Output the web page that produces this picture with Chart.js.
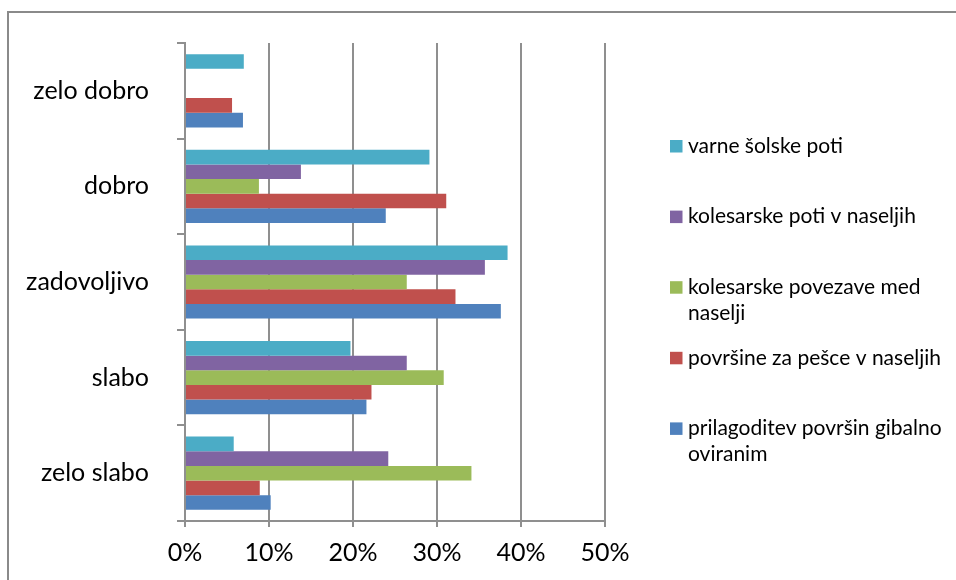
<!DOCTYPE html>
<html>
<head>
<meta charset="utf-8">
<script src="https://cdn.jsdelivr.net/npm/chart.js@4/dist/chart.umd.min.js"></script>
<style>
  html, body { margin: 0; padding: 0; background: #ffffff; }
  #wrap { width: 956px; height: 580px; position: relative; }
</style>
</head>
<body>
<div id="wrap"><canvas id="chart" width="956" height="580"></canvas></div>
<script>
// Ocene (top to bottom)
const categories = ['zelo dobro', 'dobro', 'zadovoljivo', 'slabo', 'zelo slabo'];

// Deleži odgovorov v % po posamezni infrastrukturi
const varneSolskePoti      = [7.0, 29.1, 38.4, 19.7, 5.8];
const kolesarskePoti       = [0, 13.8, 35.7, 26.4, 24.2];
const kolesarskePovezave   = [0, 8.8, 26.4, 30.8, 34.1];
const povrsineZaPesce      = [5.6, 31.1, 32.2, 22.2, 8.9];
const prilagoditevPovrsin  = [6.9, 23.9, 37.6, 21.6, 10.2];

const seriesNames = [
  'varne šolske poti',
  'kolesarske poti v naseljih',
  'kolesarske povezave med naselji',
  'površine za pešce v naseljih',
  'prilagoditev površin gibalno oviranim'
];
const seriesColors = ['#4BACC6', '#8064A2', '#9BBB59', '#C0504D', '#4F81BD'];
const seriesValues = [varneSolskePoti, kolesarskePoti, kolesarskePovezave, povrsineZaPesce, prilagoditevPovrsin];

const xTicks = [0, 10, 20, 30, 40, 50];

const FONT = 'Lato, "Open Sans", sans-serif';
const GRID = '#8f8f8f';

// Outer frame of the chart object
const framePlugin = {
  id: 'frame',
  beforeDraw(chart) {
    const ctx = chart.ctx;
    ctx.save();
    ctx.fillStyle = '#ffffff';
    ctx.fillRect(0, 0, chart.width, chart.height);
    ctx.strokeStyle = '#8a8a8a';
    ctx.lineWidth = 2;
    ctx.strokeRect(8, 12, 1200, 1200);
    ctx.restore();
  }
};

// Legend on the right with wrapped entries
const sideLegend = {
  id: 'sideLegend',
  afterDraw(chart) {
    const ctx = chart.ctx;
    const x0 = 670, box = 12, textX = 688, maxW = 262;
    const firstY = 146, step = 70.6, lineH = 26;
    ctx.save();
    ctx.font = '21px ' + FONT;
    ctx.textBaseline = 'middle';
    ctx.textAlign = 'left';
    chart.data.datasets.forEach((ds, i) => {
      const cy = firstY + i * step;
      ctx.fillStyle = ds.backgroundColor;
      ctx.fillRect(x0, cy - box / 2, box + 0.5, box + 0.5);
      // wrap words into lines
      const words = ds.label.split(' ');
      const lines = [];
      let cur = '';
      words.forEach(w => {
        const t = cur ? cur + ' ' + w : w;
        if (ctx.measureText(t).width > maxW && cur) { lines.push(cur); cur = w; }
        else cur = t;
      });
      if (cur) lines.push(cur);
      ctx.fillStyle = '#000000';
      lines.forEach((ln, k) => ctx.fillText(ln, textX, cy + k * lineH));
    });
    ctx.restore();
  }
};

const datasets = seriesNames.map((name, i) => ({
  label: name,
  data: seriesValues[i],
  backgroundColor: seriesColors[i],
  borderWidth: 0,
  categoryPercentage: 0.766,
  barPercentage: 1.0
}));

new Chart(document.getElementById('chart'), {
  type: 'bar',
  data: { labels: categories, datasets },
  plugins: [framePlugin, sideLegend],
  options: {
    indexAxis: 'y',
    responsive: false,
    animation: false,
    layout: { padding: { left: 0, top: 41, right: 351, bottom: 0 } },
    plugins: {
      legend: { display: false },
      tooltip: { enabled: false }
    },
    scales: {
      x: {
        min: 0,
        max: 50,
        afterBuildTicks(scale) { scale.ticks = xTicks.map(v => ({ value: v })); },
        afterFit(scale) { scale.height = 59; },
        ticks: {
          color: '#000000',
          font: { family: FONT, size: 25 },
          padding: 11,
          callback: v => v + '%'
        },
        grid: { color: GRID, lineWidth: 2, drawTicks: true, tickLength: 6, tickColor: GRID },
        border: { display: true, color: GRID, width: 2 }
      },
      y: {
        afterFit(scale) { scale.width = 185; },
        ticks: {
          color: '#000000',
          font: { family: FONT, size: 25 },
          padding: 28
        },
        grid: { offset: true, drawOnChartArea: false, drawTicks: true, tickLength: 8, color: GRID, lineWidth: 2 },
        border: { display: true, color: GRID, width: 2 }
      }
    }
  }
});
</script>
</body>
</html>
